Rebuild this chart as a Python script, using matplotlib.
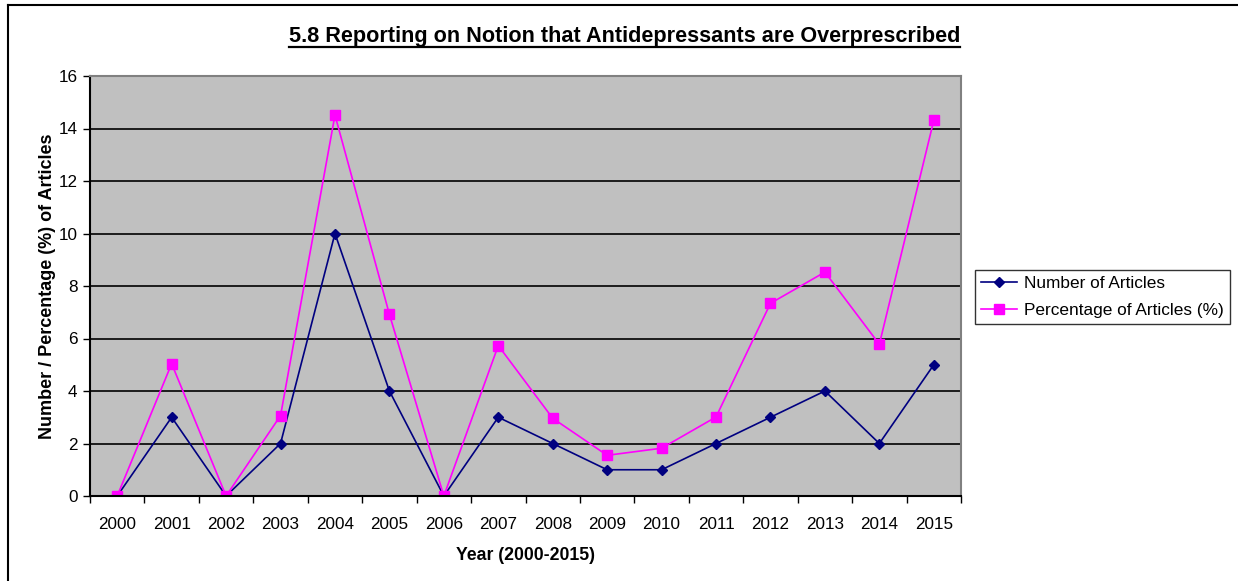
import matplotlib
matplotlib.use("Agg")
import matplotlib.pyplot as plt
from matplotlib.lines import Line2D
import numpy as np

plt.rcParams['font.family'] = ['Liberation Sans', 'DejaVu Sans']

years = ["2000", "2001", "2002", "2003", "2004", "2005", "2006", "2007",
         "2008", "2009", "2010", "2011", "2012", "2013", "2014", "2015"]
number_of_articles = [0, 3, 0, 2, 10, 4, 0, 3, 2, 1, 1, 2, 3, 4, 2, 5]
percentage_of_articles = [0, 5.04, 0, 3.06, 14.51, 6.92, 0, 5.73,
                          2.96, 1.55, 1.82, 3.01, 7.34, 8.53, 5.78, 14.31]
title = "5.8 Reporting on Notion that Antidepressants are Overprescribed"
xlabel = "Year (2000-2015)"
ylabel = "Number / Percentage (%) of Articles"
series_names = ["Number of Articles", "Percentage of Articles (%)"]

W, H = 1238, 581
fig = plt.figure(figsize=(W / 100, H / 100), dpi=100)
fig.patch.set_facecolor("white")

# outer chart border (only left and top visible)
fig.add_artist(Line2D([8 / W, 8 / W], [0, 1 - 5 / H], transform=fig.transFigure,
                      color="black", lw=1.5))
fig.add_artist(Line2D([8 / W, 1], [1 - 5 / H, 1 - 5 / H], transform=fig.transFigure,
                      color="black", lw=1.5))

left, right, top, bottom = 90, 961, 76, 496
ax = fig.add_axes([left / W, 1 - bottom / H, (right - left) / W, (bottom - top) / H])
ax.set_facecolor("#C0C0C0")

x = np.arange(len(years))
ax.plot(x, number_of_articles, color="#000080", marker="D", markersize=5.5,
        lw=1.2, label=series_names[0])
ax.plot(x, percentage_of_articles, color="#FF00FF", marker="s", markersize=6.5,
        lw=1.2, label=series_names[1])

ax.set_xlim(-0.5, len(years) - 0.5)
ax.set_ylim(0, 16)
ax.set_yticks(np.arange(0, 17, 2))
ax.yaxis.grid(True, color="black", lw=1.2)
ax.set_axisbelow(True)

ax.set_xticks(np.arange(-0.5, len(years), 1.0))
ax.set_xticklabels([])
ax.set_xticks(x, minor=True)
ax.set_xticklabels(years, minor=True)
ax.tick_params(axis="x", which="major", direction="out", length=5, width=1, color="black")
ax.tick_params(axis="x", which="minor", length=0, pad=15, labelsize=12.3)
ax.tick_params(axis="y", direction="out", length=5, width=1, labelsize=12.3, pad=4)

for s in ["top", "right"]:
    ax.spines[s].set_color("#808080")
    ax.spines[s].set_linewidth(1.5)
for s in ["left", "bottom"]:
    ax.spines[s].set_color("black")
    ax.spines[s].set_linewidth(1.5)

ax.set_xlabel(xlabel, fontsize=12.7, fontweight="bold")
ax.set_ylabel(ylabel, fontsize=13, fontweight="bold")
ax.xaxis.label.set_va("center")
ax.yaxis.label.set_va("center")
ax.xaxis.set_label_coords(0.5, (bottom - 555) / (bottom - top))
ax.yaxis.set_label_coords((47.5 - left) / (right - left), 0.5)

# title with underline
t = fig.text(624.5 / W, 1 - 42 / H, title, ha="center", va="baseline",
             fontsize=15.6, fontweight="bold")
fig.canvas.draw()
bb = t.get_window_extent().transformed(fig.transFigure.inverted())
uy = 1 - 46.5 / H
fig.add_artist(Line2D([bb.x0, bb.x1], [uy, uy], transform=fig.transFigure,
                      color="black", lw=1.6))

leg = ax.legend(loc="center left", bbox_to_anchor=(975 / W, 1 - 297 / H),
                bbox_transform=fig.transFigure, fontsize=12.4, frameon=True,
                fancybox=False, edgecolor="black", handlelength=2.1,
                borderpad=0.35, labelspacing=0.7, handletextpad=0.4,
                borderaxespad=0)
leg.get_frame().set_linewidth(1.0)

fig.savefig("out.png", dpi=100)
